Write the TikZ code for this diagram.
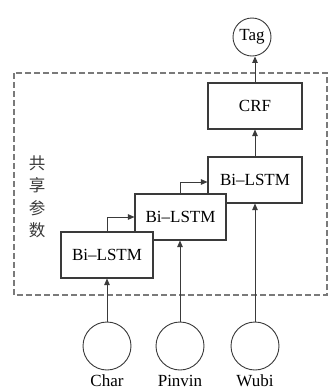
\documentclass[tikz,border=0pt]{standalone}
\usepackage{fontspec}
\setmainfont{Liberation Serif}
\newfontfamily\cjk{Noto Sans CJK SC}
\usetikzlibrary{arrows.meta}
\definecolor{ln}{HTML}{3A3A3A}
\definecolor{dsh}{HTML}{7A7A7A}
\tikzset{
  blk/.style={draw=ln, line width=1.1pt, fill=white, minimum height=46pt, inner sep=0pt, font=\fontsize{17}{17}\selectfont},
  circ/.style={draw=ln, line width=0.9pt, circle, inner sep=0pt},
  lbl/.style={font=\fontsize{17}{17}\selectfont, anchor=base, inner sep=1pt},
  arr/.style={draw=ln, line width=0.9pt, -{Triangle[length=6.5pt,width=5.5pt]}}
}
\begin{document}
\begin{tikzpicture}[x=1pt,y=-1pt]
\useasboundingbox (0,0) rectangle (329,392);
\fill[white] (0,0) rectangle (329,392);
% dashed frame
\draw[dsh, line width=1.1pt, dash pattern=on 6pt off 3pt] (14,73) rectangle (327,295);
% vertical label
\node[font=\cjk\fontsize{16.5}{22.5}\selectfont, align=center, text=ln] (share) at (37,197) {共\\享\\参\\数};
% boxes
\node[blk, minimum width=94pt] (crf) at (255,106) {CRF};
\node[blk, minimum width=94pt] (b3) at (255,180) {Bi--LSTM};
\node[blk, minimum width=91pt] (b2) at (180.5,217) {Bi--LSTM};
\node[blk, minimum width=92pt] (b1) at (107,255) {Bi--LSTM};
% circles
\node[circ, minimum size=38pt, font=\fontsize{17}{17}\selectfont] (tag) at (252,37) {Tag};
\node[circ, minimum size=48pt] (c1) at (107,346) {};
\node[circ, minimum size=48pt] (c2) at (180,346) {};
\node[circ, minimum size=48pt] (c3) at (255,346) {};
% labels
\node[lbl] (l1) at (107,386) {Char};
\node[lbl] (l2) at (180,386) {Pinvin};
\node[lbl] (l3) at (255,386) {Wubi};
% connectors
\draw[arr] (c1.north) -- (b1.south);
\draw[arr] (c2.north) -- (c2.north |- b2.south);
\draw[arr] (c3.north) -- (c3.north |- b3.south);
\draw[arr] (b3.north) -- (crf.south);
\draw[arr] (crf.north) -- (crf.north |- tag.south);
\coordinate (k1) at (107,217);
\coordinate (k2) at (180,182);
\draw[arr] (b1.north) -- (k1) -- (k1 -| b2.west);
\draw[arr] (b2.north -| k2) -- (k2) -- (k2 -| b3.west);
\end{tikzpicture}
\end{document}
